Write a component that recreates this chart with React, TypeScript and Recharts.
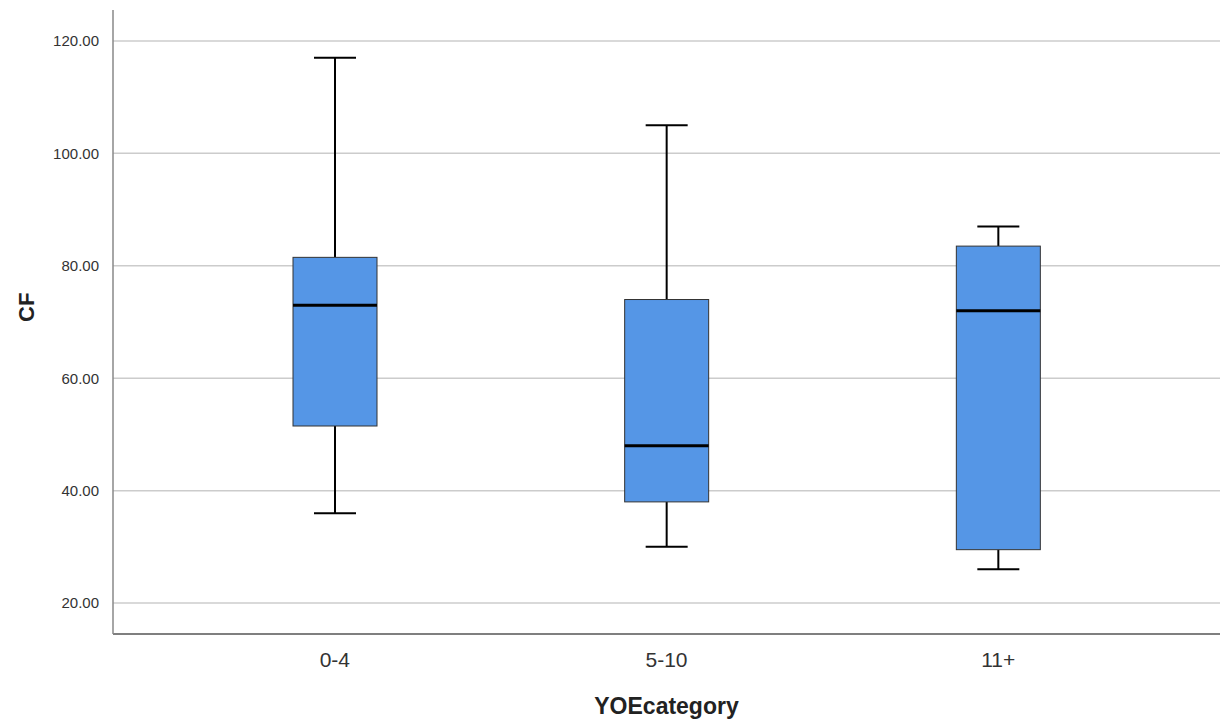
import React from 'react';
import { ComposedChart, Bar, XAxis, YAxis, CartesianGrid } from 'recharts';

const categories = ['0-4', '5-10', '11+'];
const minValues = [36, 30, 26];
const q1Values = [51.5, 38, 29.5];
const medianValues = [73, 48, 72];
const q3Values = [81.5, 74, 83.5];
const maxValues = [117, 105, 87];
const yTicks = [20, 40, 60, 80, 100, 120];

const data = categories.map((cat, i) => ({
  cat,
  min: minValues[i],
  q1: q1Values[i],
  median: medianValues[i],
  q3: q3Values[i],
  max: maxValues[i],
}));

const BoxShape = (props: any) => {
  const { x, y, width, height, payload } = props;
  const p = payload;
  const ppu = height / (p.q3 - p.q1);
  const cx = x + width / 2;
  const top = y - (p.max - p.q3) * ppu;
  const bottom = y + height + (p.q1 - p.min) * ppu;
  const medY = y + (p.q3 - p.median) * ppu;
  const cap = width / 4;
  return (
    <g>
      <line x1={cx} x2={cx} y1={top} y2={y} stroke="#000" strokeWidth={2} />
      <line x1={cx - cap} x2={cx + cap} y1={top} y2={top} stroke="#000" strokeWidth={2} />
      <line x1={cx} x2={cx} y1={y + height} y2={bottom} stroke="#000" strokeWidth={2} />
      <line x1={cx - cap} x2={cx + cap} y1={bottom} y2={bottom} stroke="#000" strokeWidth={2} />
      <rect x={x} y={y} width={width} height={height} fill="#5596e6" stroke="#333" strokeWidth={1} />
      <line x1={x} x2={x + width} y1={medY} y2={medY} stroke="#000" strokeWidth={3} />
    </g>
  );
};

export default function App() {
  return (
    <div style={{ position: 'absolute', left: 0, top: 0, fontFamily: '"Liberation Sans", Arial, sans-serif' }}>
      <ComposedChart
        width={1224}
        height={723}
        data={data}
        margin={{ top: 10, right: 4, left: 0, bottom: 0 }}
      >
        <CartesianGrid vertical={false} syncWithTicks stroke="#cccccc" strokeWidth={1.5} />
        <XAxis
          dataKey="cat"
          height={89}
          padding={{ left: 56, right: 56 }}
          tickLine={false}
          axisLine={{ stroke: '#555', strokeWidth: 1.5 }}
          tick={{ fill: '#333', fontSize: 21 }}
          tickMargin={12}
          label={{ value: 'YOEcategory', position: 'insideBottom', offset: 9, fill: '#222', fontSize: 23, fontWeight: 'bold' }}
        />
        <YAxis
          type="number"
          domain={[14.5, 125.5]}
          ticks={yTicks}
          allowDataOverflow
          width={113}
          tickLine={false}
          axisLine={{ stroke: '#888', strokeWidth: 1.5 }}
          tick={{ fill: '#333', fontSize: 15 }}
          tickMargin={8}
          tickFormatter={(v: number) => v.toFixed(2)}
          label={{ value: 'CF', angle: -90, position: 'insideLeft', offset: 26, fill: '#222', fontSize: 22, fontWeight: 'bold' }}
        />
        <Bar
          dataKey={(d: any) => [d.q1, d.q3]}
          barSize={84}
          shape={<BoxShape />}
          isAnimationActive={false}
        />
      </ComposedChart>
    </div>
  );
}
